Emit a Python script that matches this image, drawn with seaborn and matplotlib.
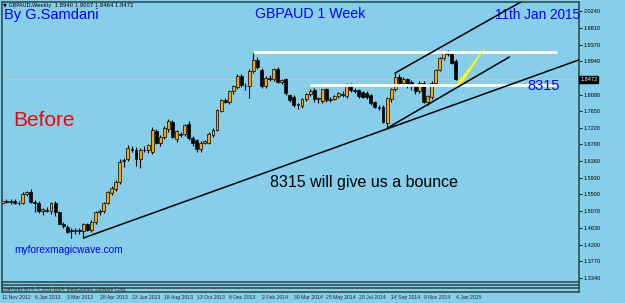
import matplotlib
matplotlib.use("Agg")
import matplotlib.pyplot as plt
from matplotlib.lines import Line2D
import numpy as np
import pandas as pd
import seaborn as sns

# weekly GBPAUD candles, 11 Nov 2012 .. 4 Jan 2015
opens = [
    1.529, 1.532, 1.530, 1.533, 1.527, 1.528, 1.551, 1.556, 1.530, 1.528,
    1.507, 1.511, 1.506, 1.529, 1.504, 1.473, 1.467, 1.458, 1.455, 1.458,
    1.456, 1.473, 1.458, 1.478, 1.504, 1.507, 1.528, 1.553, 1.564, 1.583,
    1.637, 1.641, 1.667, 1.665, 1.641, 1.666, 1.665, 1.660, 1.713, 1.683,
    1.698, 1.719, 1.736, 1.693, 1.706, 1.705, 1.732, 1.695, 1.690, 1.667,
    1.684, 1.684, 1.704, 1.717, 1.766, 1.793, 1.788, 1.816, 1.827, 1.857,
    1.831, 1.830, 1.869, 1.897, 1.871, 1.830, 1.851, 1.848, 1.875, 1.841,
    1.847, 1.806, 1.802, 1.781, 1.779, 1.796, 1.810, 1.820, 1.796, 1.791,
    1.822, 1.795, 1.797, 1.804, 1.810, 1.805, 1.832, 1.821, 1.820, 1.814,
    1.812, 1.806, 1.788, 1.776, 1.776, 1.734, 1.796, 1.822, 1.853, 1.839,
    1.848, 1.840, 1.829, 1.816, 1.837, 1.788, 1.802, 1.839, 1.872, 1.903,
    1.917, 1.914, 1.8940]
highs = [
    1.538, 1.539, 1.537, 1.538, 1.533, 1.556, 1.560, 1.563, 1.536, 1.532,
    1.516, 1.517, 1.531, 1.534, 1.508, 1.479, 1.471, 1.463, 1.462, 1.464,
    1.476, 1.476, 1.483, 1.508, 1.512, 1.531, 1.559, 1.572, 1.587, 1.641,
    1.645, 1.678, 1.676, 1.672, 1.670, 1.675, 1.680, 1.724, 1.720, 1.703,
    1.727, 1.745, 1.742, 1.717, 1.712, 1.733, 1.740, 1.700, 1.694, 1.688,
    1.691, 1.711, 1.722, 1.771, 1.797, 1.800, 1.820, 1.834, 1.862, 1.861,
    1.838, 1.874, 1.918, 1.905, 1.877, 1.857, 1.858, 1.877, 1.880, 1.848,
    1.850, 1.810, 1.806, 1.786, 1.800, 1.812, 1.823, 1.824, 1.802, 1.823,
    1.826, 1.802, 1.808, 1.815, 1.817, 1.839, 1.837, 1.826, 1.823, 1.818,
    1.816, 1.809, 1.792, 1.782, 1.780, 1.803, 1.825, 1.866, 1.860, 1.853,
    1.852, 1.845, 1.834, 1.842, 1.842, 1.808, 1.842, 1.875, 1.906, 1.921,
    1.923, 1.918, 1.9007]
lows = [
    1.525, 1.527, 1.526, 1.524, 1.522, 1.524, 1.546, 1.528, 1.505, 1.503,
    1.497, 1.504, 1.500, 1.495, 1.473, 1.463, 1.450, 1.438, 1.448, 1.447,
    1.437, 1.455, 1.454, 1.474, 1.498, 1.503, 1.524, 1.548, 1.558, 1.576,
    1.620, 1.636, 1.659, 1.624, 1.618, 1.660, 1.658, 1.655, 1.680, 1.676,
    1.693, 1.712, 1.695, 1.686, 1.698, 1.700, 1.690, 1.676, 1.660, 1.660,
    1.679, 1.680, 1.699, 1.713, 1.762, 1.786, 1.784, 1.810, 1.823, 1.828,
    1.820, 1.800, 1.864, 1.875, 1.826, 1.825, 1.843, 1.843, 1.838, 1.835,
    1.808, 1.789, 1.776, 1.772, 1.774, 1.792, 1.805, 1.790, 1.785, 1.787,
    1.790, 1.788, 1.793, 1.800, 1.802, 1.800, 1.815, 1.813, 1.800, 1.798,
    1.796, 1.782, 1.773, 1.768, 1.735, 1.721, 1.790, 1.818, 1.830, 1.830,
    1.825, 1.820, 1.810, 1.812, 1.785, 1.782, 1.797, 1.834, 1.868, 1.898,
    1.908, 1.886, 1.8464]
closes = [
    1.532, 1.530, 1.533, 1.527, 1.529, 1.551, 1.555, 1.530, 1.528, 1.506,
    1.512, 1.508, 1.528, 1.504, 1.474, 1.468, 1.453, 1.455, 1.459, 1.456,
    1.473, 1.457, 1.479, 1.504, 1.508, 1.528, 1.556, 1.566, 1.583, 1.635,
    1.639, 1.669, 1.664, 1.641, 1.665, 1.665, 1.678, 1.716, 1.683, 1.698,
    1.721, 1.740, 1.699, 1.714, 1.703, 1.729, 1.695, 1.682, 1.667, 1.684,
    1.687, 1.706, 1.717, 1.767, 1.794, 1.790, 1.817, 1.831, 1.857, 1.833,
    1.829, 1.868, 1.897, 1.880, 1.831, 1.852, 1.848, 1.874, 1.841, 1.845,
    1.811, 1.794, 1.781, 1.784, 1.797, 1.810, 1.818, 1.796, 1.798, 1.822,
    1.794, 1.797, 1.804, 1.811, 1.806, 1.833, 1.821, 1.818, 1.804, 1.802,
    1.802, 1.786, 1.775, 1.774, 1.737, 1.798, 1.822, 1.853, 1.839, 1.848,
    1.833, 1.829, 1.817, 1.838, 1.788, 1.804, 1.837, 1.872, 1.903, 1.917,
    1.913, 1.889, 1.8472]

date_ticks = [0, 8, 16, 24, 32, 40, 48, 56, 64, 72, 80, 88, 96, 104, 112]
date_labels = ['11 Nov 2012', '6 Jan 2013', '3 Mar 2013', '28 Apr 2013',
               '23 Jun 2013', '18 Aug 2013', '13 Oct 2013', '8 Dec 2013',
               '2 Feb 2014', '30 Mar 2014', '25 May 2014', '20 Jul 2014',
               '14 Sep 2014', '9 Nov 2014', '4 Jan 2015']
price_ticks = [1.3340, 1.3770, 1.4200, 1.4630, 1.5070, 1.5500, 1.5930,
               1.6360, 1.6790, 1.7220, 1.7650, 1.8080, 1.8940, 1.9370,
               1.9810, 2.0240]
last_price = 1.8472

# drawn objects (bar index, price)
support_bars, support_prices = [20, 143], [1.4374, 1.8999]
inner_bars, inner_prices = [95, 125.2], [1.7210, 1.9051]
upper_bars, upper_prices = [97, 128], [1.8638, 2.0470]
resist_top, resist_top_bars = 1.9180, [62, 137]
resist_low, resist_low_bars = 1.8315, [76, 137]
arrow_bars, arrow_prices = [112.0, 120.0, 113.5], [1.8330, 1.9410, 1.8370]

df = pd.DataFrame({'bar': np.arange(len(opens)), 'open': opens,
                   'high': highs, 'low': lows, 'close': closes})
up = df['close'] >= df['open']

sns.set_theme(style='white', rc={'axes.facecolor': '#87CEEB',
                                 'figure.facecolor': '#87CEEB'})
plt.rcParams['font.family'] = ['Liberation Sans', 'DejaVu Sans']

W, H = 625, 303
fig = plt.figure(figsize=(W / 100, H / 100), dpi=100)
ax = fig.add_axes([2 / W, 1 - 282 / H, 577 / W, 280 / H])
ax.set_xlim(-0.1, 142.4)
ax.set_ylim(1.3237, 2.0472)

# current price line
ax.axhline(last_price, color='#B8C8D0', lw=0.8, zorder=1)

# candles
ax.vlines(df['bar'], df['low'], df['high'], color='black', lw=0.8, zorder=2)
body = (df['close'] - df['open']).abs().clip(lower=0.0008)
ax.bar(df['bar'][up], body[up], bottom=df['open'][up], width=0.72,
       color='#FFA500', edgecolor='black', linewidth=0.5, zorder=3)
ax.bar(df['bar'][~up], body[~up], bottom=df['close'][~up], width=0.72,
       color='black', edgecolor='black', linewidth=0.5, zorder=3)

# horizontal levels
ax.hlines(resist_top, *resist_top_bars, color='white', lw=2, zorder=4)
ax.hlines(resist_low, *resist_low_bars, color='white', lw=2, zorder=4)

# trend lines
for xs, ys in [(support_bars, support_prices), (inner_bars, inner_prices),
               (upper_bars, upper_prices)]:
    sns.lineplot(x=xs, y=ys, ax=ax, color='black', lw=1.1, zorder=5)
ax.fill(arrow_bars, arrow_prices, color='#FFFF00', lw=0, zorder=5)

# texts
tr = ax.transAxes
ax.text(2 / 577, 1 - 13 / 280, 'By G.Samdani', transform=tr, color='blue',
        fontsize=10.5, va='center', ha='left')
ax.text(253 / 577, 1 - 12 / 280, 'GBPAUD 1 Week', transform=tr, color='blue',
        fontsize=10.2, va='center', ha='left')
ax.text(493 / 577, 1 - 13 / 280, '11th Jan 2015', transform=tr, color='blue',
        fontsize=9.8, va='center', ha='left')
ax.text(525 / 577, 1 - 84 / 280, '8315', transform=tr, color='blue',
        fontsize=10.5, va='center', ha='left', zorder=6)
ax.text(11 / 577, 1 - 119 / 280, 'Before', transform=tr, color='red',
        fontsize=15, va='center', ha='left')
ax.text(268 / 577, 1 - 180 / 280, '8315 will give us a bounce', transform=tr,
        color='black', fontsize=11.5, va='center', ha='left')
ax.text(12 / 577, 1 - 248 / 280, 'myforexmagicwave.com', transform=tr,
        color='blue', fontsize=7.3, va='center', ha='left')
ax.text(1 / 577, 1 - 3 / 280, '\u25bc GBPAUD,Weekly  1.8940 1.9007 1.8464 1.8472',
        transform=tr, color='black', fontsize=3.8, va='center', ha='left',
        family='DejaVu Sans')

# axes
for s in ax.spines.values():
    s.set_color('#2F4F4F')
    s.set_linewidth(1.2)
ax.yaxis.tick_right()
ax.set_yticks(price_ticks, [f'{p:.4f}' for p in price_ticks])
ax.tick_params(axis='y', right=True, length=2, width=0.6, pad=1.5,
               labelsize=4.0, colors='black')
ax.set_xticks(date_ticks, date_labels, ha='left')
ax.tick_params(axis='x', length=0, pad=9.5, labelsize=3.7)
ax.set_xlabel('')
ax.set_ylabel('')
ax.text(1.002, last_price, f'{last_price:.4f}', transform=ax.get_yaxis_transform(),
        color='white', fontsize=4.0, va='center', ha='left',
        bbox=dict(facecolor='black', edgecolor='black', pad=0.8), zorder=7)

# MT4 window separators below the chart
for y in [284.5, 288.0, 291.5]:
    fig.add_artist(Line2D([2 / W, 579 / W], [1 - y / H, 1 - y / H],
                          color='#2F4F4F', lw=1.2))
for x in [2, 579]:
    fig.add_artist(Line2D([x / W, x / W], [1 - 282 / H, 1 - 292 / H],
                          color='#2F4F4F', lw=1.2))
fig.text(2 / W, 1 - 289.5 / H, 'UseForex MT4, \u00a9 2001-2014, MetaQuotes Software Corp.',
         fontsize=3.4, va='center', ha='left')

fig.savefig('out.png', dpi=100, facecolor='#87CEEB')
